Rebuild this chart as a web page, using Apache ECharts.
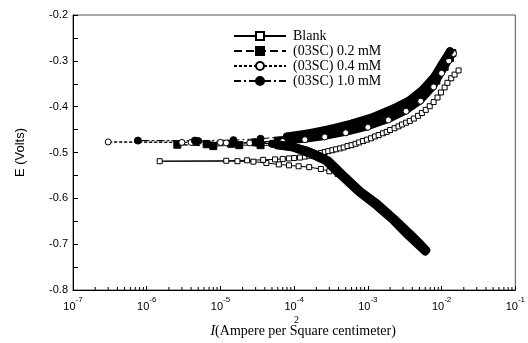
<!DOCTYPE html>
<html>
<head>
<meta charset="utf-8">
<script src="https://cdn.jsdelivr.net/npm/echarts@6/dist/echarts.min.js"></script>
<style>
html, body { margin: 0; padding: 0; background: #fff; }
#main { width: 528px; height: 343px; }
</style>
</head>
<body>
<div id="main"></div>
<script>
// series names (legend)
var seriesNames = ['Blank', '(03SC) 0.2 mM', '(03SC) 0.4 mM', '(03SC) 1.0 mM'];

// [current density (A/cm2), potential (V)]
// cathodic branch -> near Ecorr, then anodic branch
var blankCath = [[6.0e-3,-0.712],[4.0e-3,-0.677],[2.4e-3,-0.642],[1.4e-3,-0.610],[8.0e-4,-0.582],[5.0e-4,-0.556],
  [3.9e-4,-0.547],[3.0e-4,-0.541],[2.3e-4,-0.536],[1.6e-4,-0.532],[1.15e-4,-0.530],[8.5e-5,-0.528],[6.2e-5,-0.526],
  [4.2e-5,-0.523],[2.8e-5,-0.520],[1.7e-5,-0.519],[1.5e-6,-0.519]];
var blankAnod = [[1.2e-5,-0.518],[2.3e-5,-0.517],[3.8e-5,-0.516],[5.5e-5,-0.515],[7.0e-5,-0.514],[8.5e-5,-0.513],
  [1.0e-4,-0.512],[1.2e-4,-0.511],[1.4e-4,-0.509],[1.6e-4,-0.507],[1.8e-4,-0.505],[2.0e-4,-0.503],[2.3e-4,-0.501],
  [2.6e-4,-0.499],[2.9e-4,-0.497],[3.3e-4,-0.495],[3.7e-4,-0.493],[4.2e-4,-0.491],[4.7e-4,-0.489],[5.3e-4,-0.486],
  [6.0e-4,-0.484],[6.8e-4,-0.481],[7.6e-4,-0.478],[8.6e-4,-0.475],[9.7e-4,-0.472],[1.1e-3,-0.469],[1.25e-3,-0.465],
  [1.4e-3,-0.462],[1.6e-3,-0.458],[1.8e-3,-0.455],[2.0e-3,-0.451],[2.3e-3,-0.447],[2.6e-3,-0.443],[2.9e-3,-0.439],
  [3.3e-3,-0.435],[3.7e-3,-0.431],[4.2e-3,-0.426],[4.8e-3,-0.420],[5.4e-3,-0.414],[6.1e-3,-0.407],[6.9e-3,-0.399],
  [7.8e-3,-0.390],[8.8e-3,-0.380],[9.8e-3,-0.369],[1.1e-2,-0.358],[1.2e-2,-0.348],[1.35e-2,-0.338],[1.5e-2,-0.330],
  [1.7e-2,-0.321]];

var c02Cath = [[6.2e-3,-0.713],[5.2e-3,-0.700],[3.8e-3,-0.678],[2.3e-3,-0.645],[1.35e-3,-0.612],[8.0e-4,-0.585],
  [4.9e-4,-0.553],[3.9e-4,-0.537],[2.9e-4,-0.517],[1.7e-4,-0.500],[1.05e-4,-0.489],[6.0e-5,-0.485],[3.5e-5,-0.484],
  [1.8e-5,-0.484],[8.0e-6,-0.486],[2.6e-6,-0.483]];
var c02Anod = [[6.5e-6,-0.482],[1.4e-5,-0.481],[3.0e-5,-0.478],[6.0e-5,-0.474],[1.1e-4,-0.468],[2.0e-4,-0.461],
  [3.5e-4,-0.452],[7.0e-4,-0.439],[1.3e-3,-0.425],[2.3e-3,-0.408],[3.8e-3,-0.393],[6.0e-3,-0.370],[8.5e-3,-0.343],
  [1.1e-2,-0.313],[1.3e-2,-0.294],[1.4e-2,-0.283]];

var c04Cath = [[5.8e-3,-0.712],[4.6e-3,-0.695],[3.3e-3,-0.672],[2.0e-3,-0.640],[1.2e-3,-0.607],[7.2e-4,-0.580],
  [4.5e-4,-0.549],[3.4e-4,-0.531],[2.5e-4,-0.512],[1.5e-4,-0.496],[9.0e-5,-0.486],[5.0e-5,-0.481],[2.5e-5,-0.479],
  [1.0e-5,-0.478],[3.0e-6,-0.478],[3.0e-7,-0.477]];
var c04Anod = [[4.0e-6,-0.478],[1.2e-5,-0.479],[3.0e-5,-0.478],[7.0e-5,-0.476],[1.4e-4,-0.472],[2.6e-4,-0.466],
  [5.0e-4,-0.457],[1.0e-3,-0.445],[1.9e-3,-0.429],[3.3e-3,-0.410],[5.2e-3,-0.388],[7.8e-3,-0.357],[1.0e-2,-0.327],
  [1.25e-2,-0.300],[1.45e-2,-0.284]];

var c10Cath = [[6.0e-3,-0.716],[4.9e-3,-0.703],[3.6e-3,-0.683],[2.2e-3,-0.648],[1.3e-3,-0.616],[7.6e-4,-0.587],
  [4.7e-4,-0.556],[3.6e-4,-0.539],[2.7e-4,-0.519],[1.6e-4,-0.502],[1.0e-4,-0.490],[5.5e-5,-0.482],[3.0e-5,-0.478],
  [1.5e-5,-0.476],[5.0e-6,-0.475],[7.6e-7,-0.474]];
var c10Anod = [[4.5e-6,-0.474],[1.5e-5,-0.473],[3.5e-5,-0.470],[8.0e-5,-0.465],[1.6e-4,-0.458],[3.0e-4,-0.449],
  [6.0e-4,-0.437],[1.2e-3,-0.422],[2.2e-3,-0.404],[3.6e-3,-0.387],[5.6e-3,-0.362],[8.0e-3,-0.334],[1.0e-2,-0.308],
  [1.2e-2,-0.288],[1.3e-2,-0.279]];

// log-axis minor ticks (2..9 in every decade)
var minorTickVals = [];
for (var e = -7; e < -1; e++) {
  for (var k = 2; k <= 9; k++) minorTickVals.push([k * Math.pow(10, e), -0.8]);
}

var myChart = echarts.init(document.getElementById('main'));

var serif = 'Liberation Serif';
var sans = 'Liberation Sans';

// thick black bands where the original markers pile up
function band(data, w, z) {
  return {
    type: 'line', data: data.filter(function (p) { return p[0] >= 4e-5; }),
    symbol: 'none', silent: true, z: z,
    lineStyle: { color: '#000', width: w, join: 'round', cap: 'round' }
  };
}

// cathodic markers vanish inside the black band: hide them above a current limit
function hideMarks(data, limit) {
  return data.map(function (p) {
    return p[0] > limit ? { value: p, symbol: 'none' } : p;
  });
}

function curve(name, data, symbol, fill, size, dash) {
  return {
    name: name, type: 'line', data: data,
    symbol: symbol, symbolSize: size,
    itemStyle: { color: fill, borderColor: '#000', borderWidth: 1 },
    lineStyle: { color: '#000', width: 1, type: dash }
  };
}

var option = {
  backgroundColor: '#fff',
  animation: false,
  grid: { left: 73, right: 9, top: 15, bottom: 46, show: true, borderColor: '#555', borderWidth: 1 },
  legend: {
    data: seriesNames,
    orient: 'vertical',
    left: 233, top: 29, padding: 0,
    itemWidth: 52, itemHeight: 10, itemGap: 1,
    textStyle: { fontFamily: serif, fontSize: 14, lineHeight: 14, color: '#000', padding: [0, 0, 0, 2] }
  },
  xAxis: {
    type: 'log', logBase: 10, min: 1e-7, max: 1e-1, splitNumber: 6,
    name: '{i|I}(Ampere per Square centimeter)',
    nameLocation: 'middle', nameGap: 34,
    nameTextStyle: {
      fontFamily: serif, fontSize: 14, color: '#000', padding: [0, 0, 0, 18],
      rich: { i: { fontFamily: serif, fontSize: 14, fontStyle: 'italic', color: '#000' } }
    },
    axisLine: { lineStyle: { color: '#000', width: 1 } },
    axisTick: { inside: true, length: 4, lineStyle: { color: '#000' } },
    splitLine: { show: false },
    axisLabel: {
      margin: 6,
      formatter: function (v) {
        return '{b|10}{s|' + Math.round(Math.log10(v)) + '}';
      },
      rich: {
        b: { fontFamily: sans, fontSize: 11, color: '#000', lineHeight: 16, verticalAlign: 'bottom' },
        s: { fontFamily: sans, fontSize: 8, color: '#000', lineHeight: 10, verticalAlign: 'top' }
      }
    }
  },
  yAxis: {
    type: 'value', min: -0.8, max: -0.2, interval: 0.1,
    name: 'E (Volts)', nameLocation: 'middle', nameGap: 46,
    nameTextStyle: { fontFamily: sans, fontSize: 13, color: '#000' },
    axisLine: { show: true, lineStyle: { color: '#000', width: 1 } },
    axisTick: { inside: true, length: 5, lineStyle: { color: '#000' } },
    minorTick: { show: true, splitNumber: 2, length: 5, lineStyle: { color: '#000' } },
    splitLine: { show: false },
    axisLabel: {
      fontFamily: sans, fontSize: 11, color: '#000', margin: 5,
      formatter: function (v) { return v.toFixed(1); }
    }
  },
  graphic: [{
    type: 'text', left: 294, top: 315,
    style: { text: '2', fontFamily: serif, fontSize: 10, fill: '#000' }
  }],
  series: [
    {
      type: 'custom', data: minorTickVals, silent: true,
      encode: { x: 0, y: 1 },
      renderItem: function (params, api) {
        var p = api.coord([api.value(0), api.value(1)]);
        return { type: 'line', shape: { x1: p[0], y1: p[1], x2: p[0], y2: p[1] - 3 },
                 style: { stroke: '#000', lineWidth: 1 } };
      }
    },
    curve(seriesNames[0], hideMarks(blankCath, 4.5e-4).concat(blankAnod), 'rect', '#fff', 5, 'solid'),
    band(c02Anod, 7, 2), band(c04Anod, 6, 2), band(c10Anod, 8, 2),
    curve(seriesNames[1], hideMarks(c02Cath, 4e-5).concat(c02Anod), 'rect', '#000', 7, [8, 4]),
    curve(seriesNames[2], hideMarks(c04Cath, 4e-5).concat(c04Anod), 'circle', '#fff', 6, [3, 2]),
    curve(seriesNames[3], hideMarks(c10Cath, 4e-5).concat(c10Anod), 'circle', '#000', 7, [7, 3, 2, 3]),
    band(c02Cath, 8, 10), band(c04Cath, 8, 10), band(c10Cath, 8, 10)
  ]
};
myChart.setOption(option);
</script>
</body>
</html>
